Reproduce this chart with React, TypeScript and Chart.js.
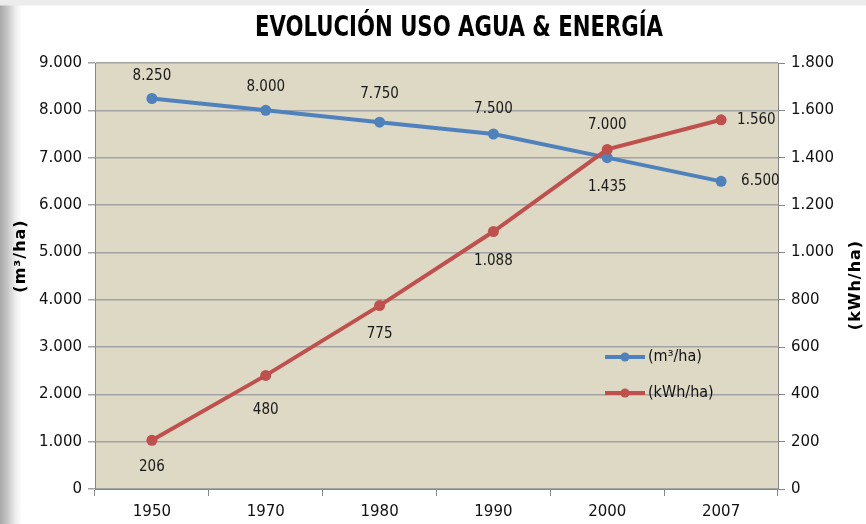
import React, { useEffect, useRef } from "react";
import { Chart, registerables } from "chart.js";

Chart.register(...registerables);

const categories = ["1950", "1970", "1980", "1990", "2000", "2007"];
const waterUse = [8250, 8000, 7750, 7500, 7000, 6500];
const energyUse = [206, 480, 775, 1088, 1435, 1560];
const waterLabel = "(m³/ha)";
const energyLabel = "(kWh/ha)";
const titleText = "EVOLUCIÓN USO AGUA & ENERGÍA";

const leftMax = 9000;
const leftStep = 1000;
const rightMax = 1800;
const rightStep = 200;

const BLUE = "#4f81bd";
const RED = "#c0504d";
const PLOT_BG = "#ddd9c4";
const GRID = "#a3a3a3";

const fmt = (n: number) => String(n).replace(/\B(?=(\d{3})+(?!\d))/g, ".");

// label placement per point (style config)
const waterPlacement = [
  { pos: "top", d: 22 },
  { pos: "top", d: 23 },
  { pos: "top", d: 28 },
  { pos: "top", d: 25 },
  { pos: "top", d: 33 },
  { pos: "right", d: 20 },
];
const energyPlacement = [
  { pos: "bottom", d: 27 },
  { pos: "bottom", d: 35 },
  { pos: "bottom", d: 29 },
  { pos: "bottom", d: 30 },
  { pos: "bottom", d: 38 },
  { pos: "right", d: 16 },
];

const tickFont = { family: "'DejaVu Sans', sans-serif", size: 15 };

const decorPlugin = {
  id: "decor",
  beforeDraw(chart: any) {
    const { ctx, chartArea } = chart;
    ctx.save();
    ctx.fillStyle = PLOT_BG;
    ctx.fillRect(chartArea.left, chartArea.top, chartArea.right - chartArea.left, chartArea.bottom - chartArea.top);
    ctx.restore();
  },
  afterDraw(chart: any) {
    const { ctx, chartArea } = chart;
    ctx.save();
    // title (condensed horizontally to match the narrow original face)
    ctx.fillStyle = "#000";
    ctx.font = "bold 29px 'DejaVu Sans Condensed', sans-serif";
    ctx.textAlign = "center";
    ctx.textBaseline = "middle";
    const tw = ctx.measureText(titleText).width;
    const sx = Math.min(1, 408 / tw);
    ctx.save();
    ctx.translate(459, 28);
    ctx.scale(sx, 1);
    ctx.fillText(titleText, 0, 0);
    ctx.restore();

    // axis titles
    ctx.font = "bold 16px 'DejaVu Sans', sans-serif";
    (ctx as any).letterSpacing = "1px";
    ctx.save();
    ctx.translate(21, 256);
    ctx.rotate(-Math.PI / 2);
    ctx.fillText(waterLabel, 0, 0);
    ctx.restore();
    ctx.save();
    ctx.translate(856, 285);
    ctx.rotate(-Math.PI / 2);
    ctx.fillText(energyLabel, 0, 0);
    ctx.restore();
    (ctx as any).letterSpacing = "0px";

    // legend
    const items = [
      { color: BLUE, text: waterLabel, y: chartArea.top + 294 },
      { color: RED, text: energyLabel, y: chartArea.top + 330 },
    ];
    const lx = chartArea.left + 510;
    items.forEach((it) => {
      ctx.strokeStyle = it.color;
      ctx.lineWidth = 4;
      ctx.beginPath();
      ctx.moveTo(lx, it.y);
      ctx.lineTo(lx + 40, it.y);
      ctx.stroke();
      ctx.fillStyle = it.color;
      ctx.beginPath();
      ctx.arc(lx + 20, it.y, 4.5, 0, Math.PI * 2);
      ctx.fill();
      ctx.fillStyle = "#111";
      ctx.font = "16px 'DejaVu Sans Condensed', sans-serif";
      ctx.textAlign = "left";
      ctx.textBaseline = "middle";
      ctx.fillText(it.text, lx + 43, it.y);
    });
    ctx.restore();
  },
  afterDatasetsDraw(chart: any) {
    const { ctx } = chart;
    ctx.save();
    ctx.fillStyle = "#1a1a1a";
    ctx.font = "15px 'DejaVu Sans Condensed', sans-serif";
    chart.data.datasets.forEach((ds: any, di: number) => {
      const meta = chart.getDatasetMeta(di);
      const placement = di === 0 ? waterPlacement : energyPlacement;
      meta.data.forEach((pt: any, i: number) => {
        const p = placement[i];
        const text = fmt(ds.data[i]);
        if (p.pos === "top") {
          ctx.textAlign = "center";
          ctx.textBaseline = "middle";
          ctx.fillText(text, pt.x, pt.y - p.d);
        } else if (p.pos === "bottom") {
          ctx.textAlign = "center";
          ctx.textBaseline = "middle";
          ctx.fillText(text, pt.x, pt.y + p.d);
        } else {
          ctx.textAlign = "left";
          ctx.textBaseline = "middle";
          ctx.fillText(text, pt.x + p.d, pt.y);
        }
      });
    });
    ctx.restore();
  },
};

export default function App() {
  const ref = useRef<HTMLCanvasElement | null>(null);
  useEffect(() => {
    if (!ref.current) return;
    const chart = new Chart(ref.current, {
      type: "line",
      data: {
        labels: categories,
        datasets: [
          {
            label: waterLabel,
            data: waterUse,
            yAxisID: "y",
            borderColor: BLUE,
            backgroundColor: BLUE,
            borderWidth: 4,
            pointRadius: 5.5,
            pointBorderWidth: 0,
            pointBackgroundColor: BLUE,
            tension: 0,
            order: 1,
          },
          {
            label: energyLabel,
            data: energyUse,
            yAxisID: "y1",
            borderColor: RED,
            backgroundColor: RED,
            borderWidth: 4,
            pointRadius: 5.5,
            pointBorderWidth: 0,
            pointBackgroundColor: RED,
            tension: 0,
            order: 0,
          },
        ],
      },
      options: {
        animation: false,
        responsive: false,
        maintainAspectRatio: false,
        layout: { padding: { top: 63, left: 0, right: 0, bottom: 0 } },
        plugins: {
          legend: { display: false },
          title: { display: false },
          tooltip: { enabled: false },
        },
        scales: {
          x: {
            type: "category",
            offset: true,
            grid: { display: true, drawOnChartArea: false, offset: true, tickLength: 7, color: "#888", lineWidth: 1 },
            border: { color: "#888", width: 1 },
            ticks: { font: tickFont, color: "#111", padding: 7, maxRotation: 0 },
            afterFit: (s: any) => { s.height = 35; },
          },
          y: {
            position: "left",
            min: 0,
            max: leftMax,
            ticks: { stepSize: leftStep, font: tickFont, color: "#111", padding: 6, callback: (v: any) => fmt(Number(v)) },
            grid: { color: GRID, lineWidth: 1.5, tickLength: 7 },
            border: { color: "#888", width: 1 },
            afterFit: (s: any) => { s.width = 95; },
          },
          y1: {
            position: "right",
            min: 0,
            max: rightMax,
            ticks: { stepSize: rightStep, font: tickFont, color: "#111", padding: 6, callback: (v: any) => fmt(Number(v)) },
            grid: { drawOnChartArea: false, color: "#888", tickLength: 7 },
            border: { color: "#888", width: 1 },
            afterFit: (s: any) => { s.width = 88; },
          },
        },
      },
      plugins: [decorPlugin],
    });
    return () => chart.destroy();
  }, []);

  return (
    <div
      style={{
        position: "fixed",
        left: 0,
        top: 0,
        width: 866,
        height: 524,
        background:
          "linear-gradient(to bottom, #ececec 0px, #ececec 5px, rgba(255,255,255,0) 6px), linear-gradient(to right, #a8a8a8 0px, #c4c4c4 7px, #ececec 15px, #ffffff 22px)",
      }}
    >
      <canvas ref={ref} width={866} height={524} style={{ display: "block", width: 866, height: 524 }} />
    </div>
  );
}
